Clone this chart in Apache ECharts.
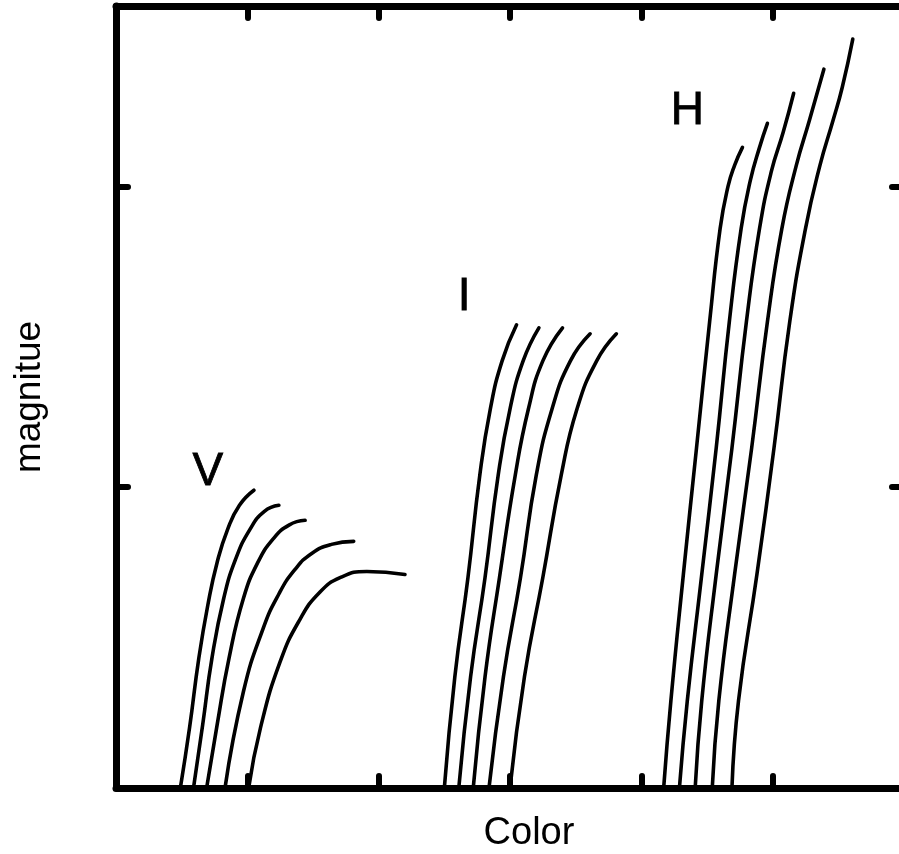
<!DOCTYPE html>
<html>
<head>
<meta charset="utf-8">
<script src="https://cdn.jsdelivr.net/npm/echarts@6/dist/echarts.min.js"></script>
<style>
  html, body { margin: 0; padding: 0; background: #fff; }
  #chart { width: 899px; height: 854px; }
</style>
</head>
<body>
<div id="chart"></div>
<script>
// Model sequences in three bands: [color, magnitude] pairs
const V1 = [[0.49,0],[0.56,0.20],[0.63,0.43],[0.70,0.61],[0.77,0.75],[0.85,0.86],[0.94,0.94],[1.05,0.99]];
const V2 = [[0.59,0],[0.66,0.21],[0.73,0.43],[0.82,0.63],[0.91,0.76],[1.02,0.86],[1.13,0.92],[1.24,0.94]];
const V3 = [[0.69,0],[0.77,0.21],[0.86,0.43],[0.97,0.63],[1.08,0.75],[1.20,0.83],[1.32,0.875],[1.44,0.89]];
const V4 = [[0.83,0],[0.97,0.32],[1.12,0.53],[1.24,0.645],[1.36,0.725],[1.49,0.78],[1.64,0.81],[1.81,0.82]];
const V5 = [[1.01,0],[1.10,0.20],[1.25,0.42],[1.40,0.56],[1.55,0.65],[1.71,0.70],[1.91,0.72],[2.20,0.71]];

const I1 = [[2.50,0],[2.58,0.37],[2.68,0.70],[2.77,1.04],[2.85,1.26],[2.94,1.42],[3.05,1.54]];
const I2 = [[2.61,0],[2.70,0.37],[2.81,0.70],[2.91,1.04],[3.00,1.26],[3.10,1.42],[3.22,1.53]];
const I3 = [[2.72,0],[2.81,0.37],[2.92,0.70],[3.04,1.04],[3.14,1.26],[3.25,1.42],[3.40,1.53]];
const I4 = [[2.84,0],[2.95,0.37],[3.08,0.70],[3.20,1.04],[3.32,1.26],[3.46,1.42],[3.61,1.51]];
const I5 = [[3.00,0],[3.11,0.37],[3.25,0.70],[3.39,1.04],[3.51,1.26],[3.66,1.42],[3.81,1.51]];

const H1 = [[4.17,0],[4.225,0.29],[4.32,0.71],[4.42,1.13],[4.52,1.55],[4.60,1.86],[4.66,2.00],[4.71,2.07],[4.77,2.13]];
const H2 = [[4.29,0],[4.35,0.29],[4.46,0.71],[4.57,1.13],[4.67,1.55],[4.76,1.86],[4.83,2.02],[4.90,2.13],[4.96,2.21]];
const H3 = [[4.41,0],[4.46,0.29],[4.57,0.71],[4.69,1.13],[4.80,1.55],[4.90,1.86],[4.99,2.05],[5.08,2.18],[5.16,2.31]];
const H4 = [[4.54,0],[4.59,0.29],[4.71,0.71],[4.84,1.13],[4.96,1.55],[5.07,1.86],[5.18,2.07],[5.28,2.22],[5.39,2.39]];
const H5 = [[4.69,0],[4.74,0.29],[4.88,0.71],[5.01,1.13],[5.13,1.55],[5.25,1.86],[5.36,2.07],[5.46,2.22],[5.53,2.33],[5.61,2.49]];

// Band names and where they sit
const bandNames = ['V', 'I', 'H'];
const bandX = [0.70, 2.65, 4.35];
const bandY = [1.05, 1.63, 2.25];

const curves = [V1, V2, V3, V4, V5, I1, I2, I3, I4, I5, H1, H2, H3, H4, H5];

function frameLine() {
  return { show: true, onZero: false, lineStyle: { color: '#000', width: 7 } };
}
function frameTicks() {
  return { show: true, inside: true, length: 12, lineStyle: { color: '#000', width: 6, cap: 'round' } };
}

const lineSeries = curves.map(c => ({
  type: 'line',
  data: c,
  smooth: 0.5,
  showSymbol: false,
  symbol: 'none',
  lineStyle: { color: '#000', width: 3.6, cap: 'round', join: 'round' },
  silent: true
}));

const labelSeries = {
  type: 'scatter',
  data: bandNames.map((n, i) => ({ name: n, value: [bandX[i], bandY[i]] })),
  symbolSize: 1,
  itemStyle: { color: 'rgba(255,255,255,0)', opacity: 1 },
  label: {
    show: true,
    position: 'inside',
    formatter: p => p.name,
    color: '#000',
    fontFamily: 'Liberation Sans',
    fontSize: 46,
    textBorderWidth: 0.8,
    textBorderColor: '#000'
  },
  silent: true
};

const chart = echarts.init(document.getElementById('chart'), null, { renderer: 'canvas' });
chart.setOption({
  animation: false,
  backgroundColor: '#fff',
  grid: { left: 116, top: 6, width: 788, height: 782, containLabel: false, outerBoundsMode: 'none' },
  xAxis: [
    {
      type: 'value', position: 'bottom', min: 0, max: 6, interval: 1,
      axisLine: frameLine(), axisTick: frameTicks(), axisLabel: { show: false }, splitLine: { show: false },
      name: 'Color', nameLocation: 'middle', nameGap: 27,
      nameTextStyle: { color: '#000', fontFamily: 'Liberation Sans', fontSize: 38, padding: [0, 0, 0, 38] }
    },
    {
      type: 'value', position: 'top', min: 0, max: 6, interval: 1,
      axisLine: frameLine(), axisTick: frameTicks(), axisLabel: { show: false }, splitLine: { show: false }
    }
  ],
  yAxis: [
    {
      type: 'value', position: 'left', min: 0, max: 2.6, interval: 1,
      axisLine: frameLine(), axisTick: frameTicks(), axisLabel: { show: false }, splitLine: { show: false },
      name: 'magnitue', nameLocation: 'middle', nameGap: 68, nameRotate: 90,
      nameTextStyle: { color: '#000', fontFamily: 'Liberation Sans', fontSize: 37 }
    },
    {
      type: 'value', position: 'right', min: 0, max: 2.6, interval: 1,
      axisLine: frameLine(), axisTick: frameTicks(), axisLabel: { show: false }, splitLine: { show: false }
    }
  ],
  series: lineSeries.concat([labelSeries])
});
</script>
</body>
</html>
